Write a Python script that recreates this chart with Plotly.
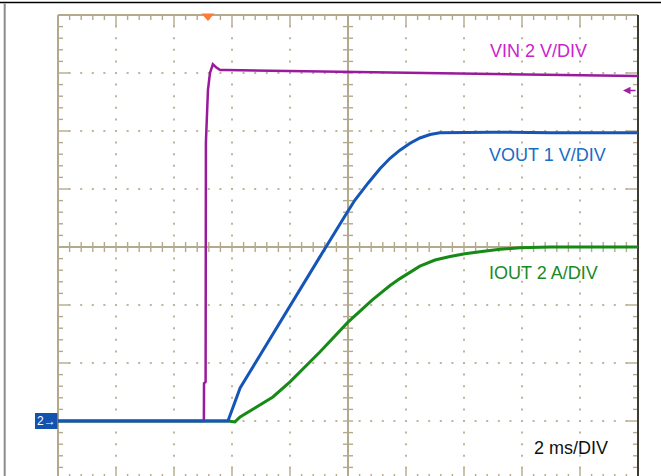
import plotly.graph_objects as go

# ---------------- data (read from the scope capture) ----------------
# time in ms relative to screen centre
vin_t_ms = [-10.0, -4.97, -4.965, -4.91, -4.90, -4.87, -4.83, -4.76, -4.66, -4.55,
            -4.41, -4.24, -3.0, -1.66, 0.0, 1.79, 3.5, 5.24, 7.0, 8.69, 10.0]
vin_v = [0.0, 0.0, 1.3, 1.35, 9.6, 10.6, 11.4, 12.0, 12.3, 12.2,
         12.1, 12.1, 12.08, 12.07, 12.05, 12.02, 12.0, 11.97, 11.94, 11.91, 11.9]

vout_t_ms = [-10.0, -4.14, -3.72, -3.14, -2.45, -1.90, -0.97, 0.0, 0.24, 0.69,
             1.10, 1.45, 1.79, 2.14, 2.48, 2.83, 3.17, 5.0, 7.0, 10.0]
vout_v = [0.0, 0.0, 0.57, 1.05, 1.62, 2.07, 2.83, 3.62, 3.81, 4.10,
          4.35, 4.53, 4.67, 4.79, 4.88, 4.94, 4.97, 4.98, 4.97, 4.97]

iout_t_ms = [-10.0, -4.14, -3.90, -3.72, -3.21, -2.59, -2.0, -0.97, 0.0, 0.83,
             1.45, 1.79, 2.48, 3.0, 3.52, 4.03, 4.55, 5.24, 5.93, 6.97, 10.0]
iout_a = [0.0, 0.0, -0.03, 0.14, 0.45, 0.83, 1.35, 2.38, 3.41, 4.17,
          4.67, 4.91, 5.34, 5.55, 5.67, 5.77, 5.84, 5.92, 5.97, 6.0, 6.0]

vin_scale = 2.0     # V/div
vout_scale = 1.0    # V/div
iout_scale = 2.0    # A/div
time_scale = 2.0    # ms/div
ground_div = -3.0   # channel ground position (divisions from centre)
trigger_ms = -4.83
trigger_level_v = 11.4

labels = ["VIN 2 V/DIV", "VOUT 1 V/DIV", "IOUT 2 A/DIV"]
timebase_label = "2 ms/DIV"

# ---------------- geometry ----------------
W, H = 661, 476
XC, YC, DIV = 348.0, 247.0, 58.0      # centre pixel and pixels per division
ms_per_px = time_scale / DIV
div_per_px = 1.0 / DIV

x_range = [(0 - XC) * ms_per_px, (W - XC) * ms_per_px]
y_range = [(YC - H) * div_per_px, YC * div_per_px]


def ch_range(scale):
    return [(y_range[0] - ground_div) * scale, (y_range[1] - ground_div) * scale]


def px_x(p):
    return (p - XC) * ms_per_px


TAN = "#b3a98d"
DOT = "#bdb49c"
FONT = "Liberation Sans, Arial, sans-serif"

fig = go.Figure()

# ---------------- graticule ----------------
lx, ly = [], []
tx, ty = [], []


def seg(xs, ys, a, b, c, d):
    xs.extend([a, c, None])
    ys.extend([b, d, None])


xe = 5 * time_scale
seg(lx, ly, -xe, 4, xe, 4)
seg(lx, ly, -xe, -4, xe, -4)
seg(lx, ly, -xe, -4, -xe, 4)
seg(lx, ly, -xe, 0, xe, 0)
seg(lx, ly, 0, -4, 0, 4)

minor_t = time_scale / 5
for i in range(-24, 25):
    t = i * minor_t
    L = 11 if i % 5 == 0 else 5
    seg(tx, ty, t, 4, t, 4 - L * div_per_px)
    seg(tx, ty, t, -4, t, -4 + L * div_per_px)
    seg(tx, ty, t, -5 * div_per_px, t, 5 * div_per_px)
for j in range(-19, 20):
    d = j * 0.2
    L = 11 if j % 5 == 0 else 5
    seg(tx, ty, -xe, d, -xe + L * ms_per_px, d)
    seg(tx, ty, xe, d, xe - L * ms_per_px, d)
    seg(tx, ty, -5 * ms_per_px, d, 5 * ms_per_px, d)

dx, dy = [], []
for k in [-4, -3, -2, -1, 1, 2, 3, 4]:
    for j in range(-19, 20):
        if j != 0:
            dx.append(k * time_scale)
            dy.append(j * 0.2)
for d in [-3, -2, -1, 1, 2, 3]:
    for i in range(-24, 25):
        if i % 5 != 0:
            dx.append(i * minor_t)
            dy.append(d)

fig.add_trace(go.Scatter(x=dx, y=dy, mode="markers",
                         marker=dict(symbol="square", size=2, color=DOT, line=dict(width=0)),
                         hoverinfo="skip", showlegend=False))
fig.add_trace(go.Scatter(x=tx, y=ty, mode="lines", line=dict(color=TAN, width=1.4),
                         hoverinfo="skip", showlegend=False))
fig.add_trace(go.Scatter(x=lx, y=ly, mode="lines", line=dict(color=TAN, width=2),
                         hoverinfo="skip", showlegend=False))
fig.add_trace(go.Scatter(x=[xe, xe], y=[-4, 4], mode="lines", line=dict(color="#3b3b36", width=2),
                         hoverinfo="skip", showlegend=False))

# ---------------- channel traces ----------------
# overlaid axes are layered in axis order: y2 (VIN) < y3 (IOUT) < y4 (VOUT)
fig.add_trace(go.Scatter(x=vin_t_ms, y=vin_v, yaxis="y2", mode="lines",
                         line=dict(color="#9a1a9c", width=2.5), showlegend=False))
fig.add_trace(go.Scatter(x=iout_t_ms, y=iout_a, yaxis="y3", mode="lines",
                         line=dict(color="#168a16", width=3), showlegend=False))
fig.add_trace(go.Scatter(x=vout_t_ms, y=vout_v, yaxis="y4", mode="lines",
                         line=dict(color="#1655b8", width=3), showlegend=False))

# ---------------- decorations ----------------
shapes = [
    dict(type="line", xref="paper", yref="paper", x0=0, x1=1, y0=1 - 2.5 / H, y1=1 - 2.5 / H,
         line=dict(color="#000000", width=1.5)),
    dict(type="line", xref="paper", yref="paper", x0=4.7 / W, x1=4.7 / W, y0=0, y1=1 - 3.5 / H,
         line=dict(color="#8c8c8c", width=2)),
    dict(type="path", xref="x", yref="y",
         path="M {a} {b} L {c} {b} L {m} {d} Z".format(
             a=trigger_ms - 6.5 * ms_per_px, c=trigger_ms + 6.5 * ms_per_px, m=trigger_ms,
             b=4 + 1.5 * div_per_px, d=4 - 6 * div_per_px),
         fillcolor="#ff7a33", line=dict(width=0)),
    dict(type="rect", xref="x", yref="y", x0=px_x(35), x1=px_x(57.5),
         y0=ground_div - 8 * div_per_px, y1=ground_div + 8 * div_per_px,
         fillcolor="#1253b0", line=dict(width=0)),
]

annotations = [
    dict(xref="x", yref="y", x=px_x(46), y=ground_div, text="2→", showarrow=False,
         font=dict(family=FONT, size=12, color="white"), xanchor="center", yanchor="middle"),
    dict(xref="x", yref="y2", x=px_x(623), y=trigger_level_v, ax=14, ay=0, text="",
         showarrow=True, arrowhead=2, arrowsize=1, arrowwidth=1.5, arrowcolor="#a020a0"),
]

label_specs = [
    (labels[0], 489, 51.4, "#cc22cc"),
    (labels[1], 488, 155.3, "#1a6cc6"),
    (labels[2], 488, 272.5, "#1a8a26"),
    (timebase_label, 533, 448.4, "#111111"),
]
for txt, xp, yp, col in label_specs:
    annotations.append(dict(xref="paper", yref="paper", x=xp / W, y=1 - yp / H, text=txt,
                            showarrow=False, xanchor="left", yanchor="middle", borderpad=0,
                            font=dict(family=FONT, size=18, color=col)))

ax_common = dict(visible=False, fixedrange=True, showgrid=False, zeroline=False)
fig.update_layout(
    width=W, height=H, autosize=False,
    margin=dict(l=0, r=0, t=0, b=0, pad=0),
    paper_bgcolor="white", plot_bgcolor="white",
    xaxis=dict(range=x_range, **ax_common),
    yaxis=dict(range=y_range, **ax_common),
    yaxis2=dict(range=ch_range(vin_scale), overlaying="y", **ax_common),
    yaxis3=dict(range=ch_range(iout_scale), overlaying="y", **ax_common),
    yaxis4=dict(range=ch_range(vout_scale), overlaying="y", **ax_common),
    shapes=shapes, annotations=annotations, showlegend=False,
)

fig.write_html("out.html", config={"displayModeBar": False},
               post_script="document.body.style.margin='0';document.body.style.overflow='hidden';")
